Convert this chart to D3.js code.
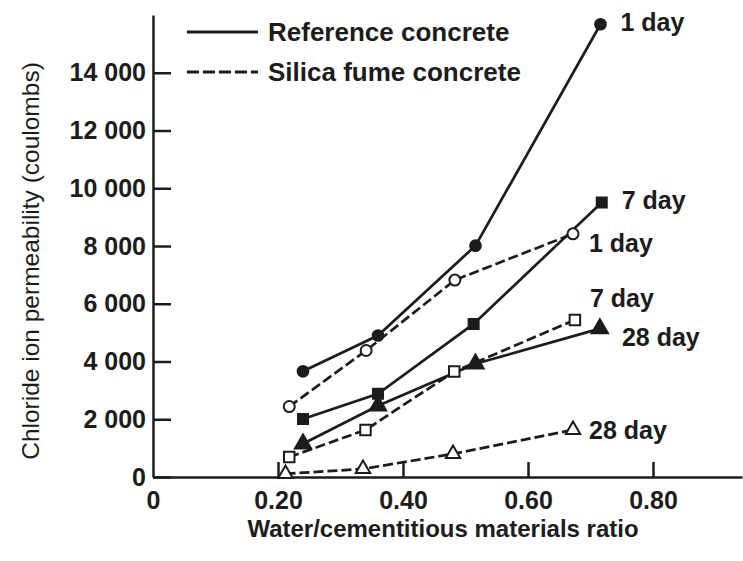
<!DOCTYPE html>
<html>
<head>
<meta charset="utf-8">
<script src="https://cdn.jsdelivr.net/npm/d3@7"></script>
<style>
  body { margin: 0; background: #fff; }
  text { fill: #1c1c1c; }
</style>
</head>
<body>
<div id="chart"></div>
<script>
// w/cm ratios (each series is plotted a little off the others)
var refRatio1 = [0.240, 0.360, 0.516, 0.716];
var refRatio7 = [0.240, 0.360, 0.513, 0.718];
var refRatio28 = [0.240, 0.360, 0.516, 0.715];
var sfRatio1 = [0.218, 0.341, 0.483, 0.672];
var sfRatio7 = [0.218, 0.340, 0.482, 0.675];
var sfRatio28 = [0.212, 0.336, 0.480, 0.672];

// chloride ion permeability, coulombs
var ref1Day = [3660, 4900, 8010, 15680];
var ref7Day = [2010, 2880, 5300, 9510];
var ref28Day = [1150, 2470, 3920, 5140];
var sf1Day = [2440, 4380, 6820, 8420];
var sf7Day = [690, 1630, 3650, 5440];
var sf28Day = [110, 280, 800, 1630];

var dayLabels = ["1 day", "7 day", "28 day", "1 day", "7 day", "28 day"];
var yTicks = [0, 2000, 4000, 6000, 8000, 10000, 12000, 14000];
var xTicks = [0, 0.2, 0.4, 0.6, 0.8];
var legendNames = ["Reference concrete", "Silica fume concrete"];

var svgWidth = 743;
var svgHeight = 561;

var margin = {
    top: 15,
    right: 1,
    bottom: 84,
    left: 153
};

var width = svgWidth - margin.left - margin.right;
var height = svgHeight - margin.top - margin.bottom;

var ink = "#1c1c1c";
var labelFont = "'Liberation Sans', Arial, sans-serif";

var svg = d3.select("#chart")
    .append("svg")
    .attr("width", svgWidth)
    .attr("height", svgHeight)
    .style("background", "#fff");

var chartGroup = svg.append("g")
    .attr("transform", `translate(${margin.left}, ${margin.top})`);

var xScale = d3.scaleLinear().domain([0, 0.9424]).range([0, width]);
var yScale = d3.scaleLinear().domain([0, 16000]).range([height, 0]);

// axes, ticks pointing into the plot
var bottomAxis = d3.axisBottom(xScale)
    .tickValues(xTicks)
    .tickSize(-15)
    .tickSizeOuter(0)
    .tickPadding(14)
    .tickFormat(d => d === 0 ? "0" : d3.format(".2f")(d));

var leftAxis = d3.axisLeft(yScale)
    .tickValues(yTicks)
    .tickSize(-18)
    .tickSizeOuter(0)
    .tickPadding(7)
    .tickFormat(d => d === 0 ? "0" : d3.format(",")(d).replace(",", " "));

var xAxisG = chartGroup.append("g")
    .attr("transform", `translate(0, ${height})`)
    .call(bottomAxis);

var yAxisG = chartGroup.append("g")
    .call(leftAxis);

[xAxisG, yAxisG].forEach(function (g) {
    g.selectAll("path, line").attr("stroke", ink).attr("stroke-width", 2.5);
    g.selectAll("text")
        .attr("fill", ink)
        .style("font-family", labelFont)
        .style("font-weight", "bold")
        .style("font-size", "25px")
        .style("white-space", "pre");
});
xAxisG.select(".tick line").remove(); // no tick at 0

// axis titles
svg.append("text")
    .attr("transform", "translate(30, 261) rotate(-90)")
    .attr("text-anchor", "middle")
    .attr("dominant-baseline", "central")
    .style("font-family", labelFont)
    .style("font-size", "24.5px")
    .text("Chloride ion permeability (coulombs)");

svg.append("text")
    .attr("x", 443)
    .attr("y", 528)
    .attr("text-anchor", "middle")
    .attr("dominant-baseline", "central")
    .style("font-family", labelFont)
    .style("font-weight", "bold")
    .style("font-size", "24px")
    .text("Water/cementitious materials ratio");

// series
var series = [
    { x: refRatio1, y: ref1Day, dashed: false, symbol: d3.symbolCircle, size: 90, filled: true },
    { x: refRatio7, y: ref7Day, dashed: false, symbol: d3.symbolSquare, size: 100, filled: true },
    { x: refRatio28, y: ref28Day, dashed: false, symbol: d3.symbolTriangle, size: 115, filled: true },
    { x: sfRatio1, y: sf1Day, dashed: true, symbol: d3.symbolCircle, size: 95, filled: false },
    { x: sfRatio7, y: sf7Day, dashed: true, symbol: d3.symbolSquare, size: 110, filled: false },
    { x: sfRatio28, y: sf28Day, dashed: true, symbol: d3.symbolTriangle, size: 90, filled: false }
];

// where each end label sits relative to the last point
var labelOffsets = [
    [20, -2], [20, -2], [22, 8], [16, 9], [15, -22], [16, 0]
];

var line = d3.line()
    .x(d => xScale(d[0]))
    .y(d => yScale(d[1]));

series.forEach(function (s, i) {
    var pts = s.x.map((v, j) => [v, s.y[j]]);

    chartGroup.append("path")
        .datum(pts)
        .attr("d", line)
        .attr("fill", "none")
        .attr("stroke", ink)
        .attr("stroke-width", 2.7)
        .attr("stroke-dasharray", s.dashed ? "10,4" : null);

    chartGroup.selectAll(".pt" + i)
        .data(pts)
        .enter()
        .append("path")
        .attr("class", "pt" + i)
        .attr("transform", d => `translate(${xScale(d[0])}, ${yScale(d[1])})`)
        .attr("d", d3.symbol().type(s.symbol).size(s.size))
        .attr("fill", s.filled ? ink : "#fff")
        .attr("stroke", ink)
        .attr("stroke-width", 2);

    var last = pts[pts.length - 1];
    chartGroup.append("text")
        .attr("x", xScale(last[0]) + labelOffsets[i][0])
        .attr("y", yScale(last[1]) + labelOffsets[i][1])
        .attr("dominant-baseline", "central")
        .style("font-family", labelFont)
        .style("font-weight", "bold")
        .style("font-size", "25px")
        .text(dayLabels[i]);
});

// legend
var legend = svg.append("g");
legendNames.forEach(function (name, i) {
    var ly = 32 + i * 40;
    legend.append("line")
        .attr("x1", 187)
        .attr("x2", 258)
        .attr("y1", ly)
        .attr("y2", ly)
        .attr("stroke", ink)
        .attr("stroke-width", 3)
        .attr("stroke-dasharray", i === 1 ? "12,4" : null);
    legend.append("text")
        .attr("x", 268)
        .attr("y", ly)
        .attr("dominant-baseline", "central")
        .style("font-family", labelFont)
        .style("font-weight", "bold")
        .style("font-size", "26px")
        .text(name);
});
</script>
</body>
</html>
